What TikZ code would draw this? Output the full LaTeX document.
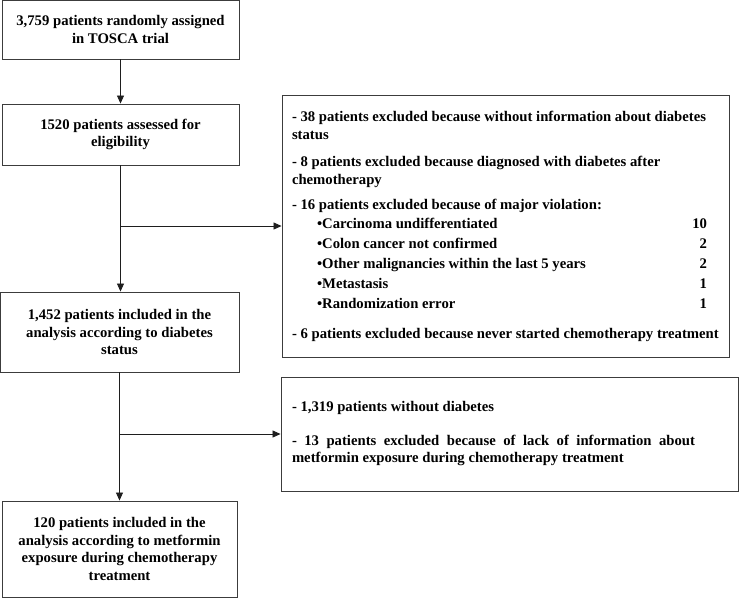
\documentclass[tikz,border=0pt]{standalone}
\usepackage{fontspec}
\setmainfont{Liberation Serif}
\usetikzlibrary{arrows.meta,positioning}
\definecolor{boxline}{HTML}{3C3C3C}
\definecolor{linkline}{HTML}{1E1E1E}
% one excluded-reason line with its count on the right
\newcommand{\violation}[2]{\hspace*{25pt}\makebox[390pt]{\textbullet#1\hfill#2}}

\begin{document}
\begin{tikzpicture}[x=1pt,y=-1pt,
    flowbox/.style={draw=boxline,line width=0.9pt,inner sep=0pt,align=center,
      font=\fontsize{14.7}{17.5}\selectfont\bfseries},
    notebox/.style={draw=boxline,line width=0.9pt,inner sep=0pt,
      font=\fontsize{14.7}{18}\selectfont\bfseries},
    flowline/.style={draw=linkline,line width=0.8pt},
    flowarrow/.style={flowline,-{Triangle[length=8pt,width=7pt]}}]
  \useasboundingbox (0,0) rectangle (739,598);

  % main column
  \node[flowbox,minimum width=237pt,minimum height=59pt] (assigned) at (120.5,29.5)
    {3,759 patients randomly assigned\\in TOSCA trial};
  \node[flowbox,minimum width=237pt,minimum height=61pt] (assessed) at (120.5,134.5)
    {1520 patients assessed for\\eligibility};
  \node[flowbox,minimum width=239pt,minimum height=80pt] (included) at (119.5,332)
    {1,452 patients included in the\\analysis according to diabetes\\status};
  \node[flowbox,minimum width=235pt,minimum height=96pt] (metformin) at (119.5,549)
    {120 patients included in the\\analysis according to metformin\\exposure during chemotherapy\\treatment};

  % side boxes
  \node[notebox,minimum width=447pt,minimum height=262pt] (excluded1) at (505.5,226)
    {\hspace*{4pt}\parbox{431pt}{\raggedright\fontsize{14.7}{18}\selectfont
      - 38 patients excluded because without information about diabetes\\
      status\\[9pt]
      - 8 patients excluded because diagnosed with diabetes after\\
      chemotherapy\\[7pt]
      - 16 patients excluded because of major violation:\\[1pt]
      \violation{Carcinoma undifferentiated}{10}\\[2pt]
      \violation{Colon cancer not confirmed}{2}\\[2pt]
      \violation{Other malignancies within the last 5 years}{2}\\[2pt]
      \violation{Metastasis}{1}\\[2pt]
      \violation{Randomization error}{1}\\[12pt]
      - 6 patients excluded because never started chemotherapy treatment}};
  \node[notebox,minimum width=457pt,minimum height=114pt] (excluded2) at (509.5,434)
    {\parbox{403pt}{\fontsize{14.7}{17.5}\selectfont
      - 1,319 patients without diabetes\\[16pt]
      - 13 patients excluded because of lack of information about\linebreak
      metformin exposure during chemotherapy treatment}\hspace*{32pt}};

  % connectors
  \draw[flowarrow] (assigned) -- (assessed);
  \draw[flowarrow] (assessed.south) -- (assessed.south |- included.north);
  \coordinate (split1) at (assessed.south |- excluded1.west);
  \draw[flowarrow] (split1) -- (excluded1.west);
  \draw[flowarrow] (included.south) -- (included.south |- metformin.north);
  \coordinate (split2) at (included.south |- excluded2.west);
  \draw[flowarrow] (split2) -- (excluded2.west);
\end{tikzpicture}
\end{document}
